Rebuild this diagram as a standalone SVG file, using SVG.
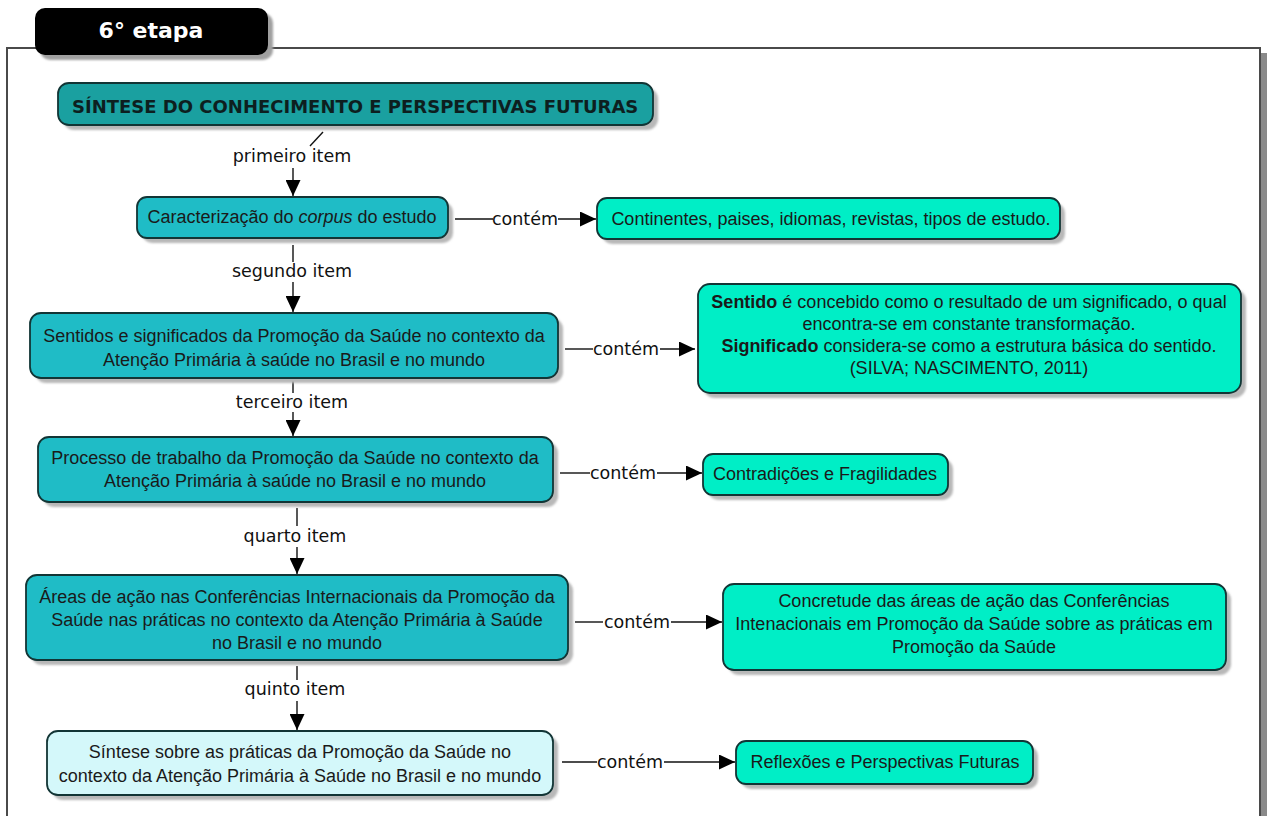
<svg xmlns="http://www.w3.org/2000/svg" width="1267" height="816" viewBox="0 0 1267 816">
  <defs>
    <style>
      .box { stroke: #123535; stroke-width: 1.8; }
      .title { fill: #1aa0a0; }
      .main { fill: #1fbcc6; }
      .leaf { fill: #00eec6; }
      .light { fill: #d4f8fa; }
      .shadow { fill: #b8b8b8; filter: url(#soft); }
      .txt { font-family: "Liberation Sans", Arial, sans-serif; font-size: 18px; fill: #1a1a1a; text-anchor: middle; }
      .lbl { font-family: "DejaVu Sans", Verdana, sans-serif; font-size: 17.5px; fill: #111; text-anchor: middle; }
      .conn { stroke: #111; stroke-width: 1.4; fill: none; }
      .arr { marker-end: url(#head); }
    </style>
    <filter id="soft" x="-5%" y="-20%" width="110%" height="140%">
      <feGaussianBlur stdDeviation="1.2"/>
    </filter>
    <marker id="head" markerUnits="userSpaceOnUse" markerWidth="17" markerHeight="15" refX="16" refY="7.5" orient="auto">
      <path d="M0,0 L16,7.5 L0,15 Z" fill="#000"/>
    </marker>
  </defs>

  <rect width="1267" height="816" fill="#fff"/>

  <!-- frame of the stage panel -->
  <g id="frame">
    <rect x="1261" y="53" width="6" height="763" fill="#8a8a8a"/>
    <path d="M7,816 V48 H1260 V816" fill="none" stroke="#4a4a4a" stroke-width="2"/>
  </g>

  <!-- stage tab -->
  <g id="tab">
    <rect x="40" y="13" width="233" height="47" rx="10" fill="#a0a0a0" filter="url(#soft)"/>
    <rect x="35" y="8" width="233" height="47" rx="10" fill="#000"/>
    <text x="151" y="38" font-family="DejaVu Sans, Verdana, sans-serif" font-weight="bold" font-size="22" fill="#fff" text-anchor="middle">6° etapa</text>
  </g>

  <!-- connectors -->
  <g id="connectors">
    <line class="conn" x1="323" y1="132" x2="310" y2="146"/>
    <text class="lbl" x="292" y="162">primeiro item</text>
    <line class="conn arr" x1="293" y1="168" x2="293" y2="196"/>

    <line class="conn" x1="293" y1="245" x2="293" y2="262"/>
    <text class="lbl" x="292" y="277">segundo item</text>
    <line class="conn arr" x1="293" y1="282" x2="293" y2="312"/>

    <line class="conn" x1="293" y1="381" x2="293" y2="393"/>
    <text class="lbl" x="292" y="408">terceiro item</text>
    <line class="conn arr" x1="293" y1="412" x2="293" y2="436"/>

    <line class="conn" x1="297" y1="508" x2="297" y2="526"/>
    <text class="lbl" x="295" y="542">quarto item</text>
    <line class="conn arr" x1="297" y1="547" x2="297" y2="574"/>

    <line class="conn" x1="297" y1="666" x2="297" y2="680"/>
    <text class="lbl" x="295" y="695">quinto item</text>
    <line class="conn arr" x1="297" y1="701" x2="297" y2="730"/>

    <line class="conn" x1="455" y1="219" x2="493" y2="219"/>
    <text class="lbl" x="525" y="225">contém</text>
    <line class="conn arr" x1="558" y1="219" x2="596" y2="219"/>

    <line class="conn" x1="565" y1="349" x2="593" y2="349"/>
    <text class="lbl" x="626" y="355">contém</text>
    <line class="conn arr" x1="660" y1="349" x2="695" y2="349"/>

    <line class="conn" x1="560" y1="473" x2="590" y2="473"/>
    <text class="lbl" x="623" y="479">contém</text>
    <line class="conn arr" x1="657" y1="473" x2="702" y2="473"/>

    <line class="conn" x1="575" y1="622" x2="603" y2="622"/>
    <text class="lbl" x="637" y="628">contém</text>
    <line class="conn arr" x1="671" y1="622" x2="722" y2="622"/>

    <line class="conn" x1="562" y1="762" x2="597" y2="762"/>
    <text class="lbl" x="630" y="768">contém</text>
    <line class="conn arr" x1="664" y1="762" x2="735" y2="762"/>
  </g>

  <!-- main heading -->
  <g id="n-sintese">
    <rect class="shadow" x="63" y="88" width="595" height="42" rx="11"/>
    <rect class="box title" x="58" y="83" width="595" height="42" rx="11"/>
    <text x="72" y="113" font-family="DejaVu Sans, Verdana, sans-serif" font-weight="bold" font-size="18" fill="#0d1f1f">SÍNTESE DO CONHECIMENTO E PERSPECTIVAS FUTURAS</text>
  </g>

  <!-- first item -->
  <g id="n-corpus">
    <rect class="shadow" x="142" y="202" width="311" height="41" rx="10"/>
    <rect class="box main" x="137" y="197" width="311" height="41" rx="10"/>
    <text class="txt" x="292" y="223">Caracterização do <tspan font-style="italic">corpus</tspan> do estudo</text>
  </g>
  <g id="n-continentes">
    <rect class="shadow" x="602" y="203" width="463" height="41" rx="10"/>
    <rect class="box leaf" x="597" y="198" width="463" height="41" rx="10"/>
    <text class="txt" x="831" y="225">Continentes, paises, idiomas, revistas, tipos de estudo.</text>
  </g>

  <!-- second item -->
  <g id="n-sentidos">
    <rect class="shadow" x="35" y="318" width="528" height="65" rx="11"/>
    <rect class="box main" x="30" y="313" width="528" height="65" rx="11"/>
    <text class="txt" x="294" y="342">Sentidos e significados da Promoção da Saúde no contexto da</text>
    <text class="txt" x="294" y="366">Atenção Primária à saúde no Brasil e no mundo</text>
  </g>
  <g id="n-sentido-def">
    <rect class="shadow" x="703" y="289" width="543" height="109" rx="12"/>
    <rect class="box leaf" x="698" y="284" width="543" height="109" rx="12"/>
    <text class="txt" x="969" y="308"><tspan font-weight="bold">Sentido</tspan> é concebido como o resultado de um significado, o qual</text>
    <text class="txt" x="969" y="330">encontra-se em constante transformação.</text>
    <text class="txt" x="969" y="352"><tspan font-weight="bold">Significado</tspan> considera-se como a estrutura básica do sentido.</text>
    <text class="txt" x="969" y="374">(SILVA; NASCIMENTO, 2011)</text>
  </g>

  <!-- third item -->
  <g id="n-processo">
    <rect class="shadow" x="43" y="442" width="515" height="65" rx="11"/>
    <rect class="box main" x="38" y="437" width="515" height="65" rx="11"/>
    <text class="txt" x="295" y="464">Processo de trabalho da Promoção da Saúde no contexto da</text>
    <text class="txt" x="295" y="487">Atenção Primária à saúde no Brasil e no mundo</text>
  </g>
  <g id="n-contradicoes">
    <rect class="shadow" x="708" y="459" width="245" height="41" rx="10"/>
    <rect class="box leaf" x="703" y="454" width="245" height="41" rx="10"/>
    <text class="txt" x="825" y="480">Contradições e Fragilidades</text>
  </g>

  <!-- fourth item -->
  <g id="n-areas">
    <rect class="shadow" x="31" y="580" width="542" height="85" rx="11"/>
    <rect class="box main" x="26" y="575" width="542" height="85" rx="11"/>
    <text class="txt" x="297" y="603">Áreas de ação nas Conferências Internacionais da Promoção da</text>
    <text class="txt" x="297" y="626">Saúde nas práticas no contexto da Atenção Primária à Saúde</text>
    <text class="txt" x="297" y="649">no Brasil e no mundo</text>
  </g>
  <g id="n-concretude">
    <rect class="shadow" x="728" y="589" width="503" height="86" rx="11"/>
    <rect class="box leaf" x="723" y="584" width="503" height="86" rx="11"/>
    <text class="txt" x="974" y="607">Concretude das áreas de ação das Conferências</text>
    <text class="txt" x="974" y="630">Intenacionais em Promoção da Saúde sobre as práticas em</text>
    <text class="txt" x="974" y="653">Promoção da Saúde</text>
  </g>

  <!-- fifth item -->
  <g id="n-sintese-praticas">
    <rect class="shadow" x="52" y="736" width="506" height="64" rx="11"/>
    <rect class="box light" x="47" y="731" width="506" height="64" rx="11"/>
    <text class="txt" x="300" y="758">Síntese sobre as práticas da Promoção da Saúde no</text>
    <text class="txt" x="300" y="782">contexto da Atenção Primária à Saúde no Brasil e no mundo</text>
  </g>
  <g id="n-reflexoes">
    <rect class="shadow" x="741" y="746" width="297" height="43" rx="10"/>
    <rect class="box leaf" x="736" y="741" width="297" height="43" rx="10"/>
    <text class="txt" x="885" y="768">Reflexões e Perspectivas Futuras</text>
  </g>
</svg>
